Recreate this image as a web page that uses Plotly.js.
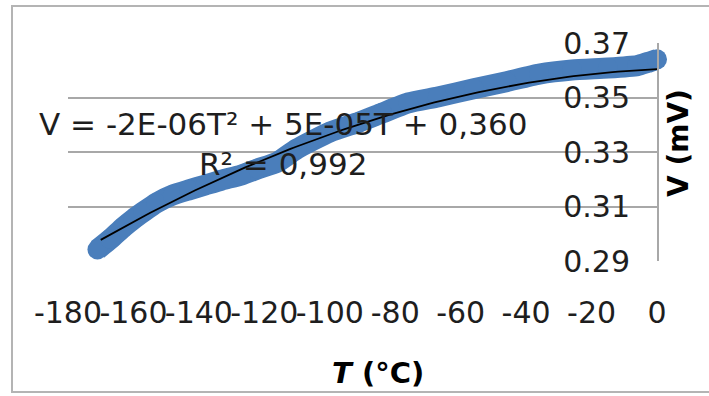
<!DOCTYPE html>
<html>
<head>
<meta charset="utf-8">
<script src="https://cdn.plot.ly/plotly-3.0.1.min.js"></script>
<style>
  html, body { margin: 0; padding: 0; background: #ffffff; }
  #chart { width: 709px; height: 396px; }
</style>
</head>
<body>
<div id="chart"></div>
<script>
// Measured temperature (°C) and sensor voltage (mV)
const tempC = [-171, -167, -163, -160, -157, -153, -148, -143, -138, -133, -127, -122,
               -116, -110, -100, -91, -84, -76, -67, -56, -46, -36, -26, -15, -6, -3, 0];
const voltage = [0.2942, 0.2981, 0.3025, 0.3054, 0.3080, 0.3113, 0.3142, 0.3161, 0.3179,
                 0.3197, 0.3216, 0.3238, 0.3263, 0.3312, 0.3373, 0.3410, 0.3443, 0.3480,
                 0.3502, 0.3532, 0.3558, 0.3586, 0.3601, 0.3608, 0.3617, 0.3628, 0.3640];

// Axis ticks
const xTicks = [-180, -160, -140, -120, -100, -80, -60, -40, -20, 0];
const yTicks = [0.29, 0.31, 0.33, 0.35, 0.37];

// Polynomial trendline coefficients (V = a·T² + b·T + c) and its printed label
const trendA = -1.85e-6;
const trendB = 5.4e-5;
const trendC = 0.3604;
const trendLabel = ['V = -2E-06T\u00b2 + 5E-05T + 0,360', 'R\u00b2 = 0,992'];

const tMin = -170, tMax = Math.max(...tempC);
const fitT = [], fitV = [];
for (let i = 0; i <= 100; i++) {
  const t = tMin + (tMax - tMin) * i / 100;
  fitT.push(t);
  fitV.push(trendC + trendB * t + trendA * t * t);
}

const FONT = 'DejaVu Sans, Verdana, sans-serif';
const INK = '#1e1e1e';
const GRID = '#a8a8a8';
const BLUE = '#4a7ebb';
const Y_RANGE = [0.29, 0.37];

// plot-area geometry in px
const W = 709, H = 396, L = 68, R = 52, T = 43, B = 135;
const pw = W - L - R, ph = H - T - B;
const px = v => (v - L) / pw;          // page x -> paper x
const py = v => (H - B - v) / ph;      // page y -> paper y

const traces = [
  {
    x: tempC, y: voltage, type: 'scatter', mode: 'lines+markers',
    line: { color: BLUE, width: 21, shape: 'spline', smoothing: 0.5 },
    marker: { color: BLUE, size: 20 },
    cliponaxis: false, hoverinfo: 'skip', showlegend: false
  },
  {
    x: fitT, y: fitV, type: 'scatter', mode: 'lines', yaxis: 'y2',
    line: { color: '#000000', width: 1.8 },
    hoverinfo: 'skip', showlegend: false
  }
];

const layout = {
  width: W, height: H,
  margin: { l: L, r: R, t: T, b: B, pad: 0 },
  paper_bgcolor: '#ffffff', plot_bgcolor: '#ffffff',
  font: { family: FONT, size: 30, color: INK },
  showlegend: false,
  xaxis: {
    range: [-180, 0], tickvals: xTicks, ticktext: xTicks.map(String),
    showgrid: false, zeroline: false, showline: false, ticks: '',
    tickangle: 0, ticklabelstandoff: 31, automargin: false,
    tickfont: { family: FONT, size: 30, color: INK }
  },
  // value axis: right-hand line and gridlines
  yaxis: {
    side: 'right', range: Y_RANGE, tickvals: yTicks,
    showgrid: true, gridcolor: GRID, gridwidth: 2,
    showline: true, linecolor: GRID, linewidth: 2,
    zeroline: false, ticks: '', showticklabels: false, automargin: false
  },
  // value axis labels, set just inside the right edge of the plot
  yaxis2: {
    overlaying: 'y', anchor: 'free', side: 'left', position: px(630),
    range: Y_RANGE, tickvals: yTicks,
    ticktext: yTicks.map(v => v.toFixed(2)),
    showgrid: false, showline: false, zeroline: false, ticks: '',
    ticklabelstandoff: 0, automargin: false,
    tickfont: { family: FONT, size: 30, color: INK }
  },
  shapes: [
    { type: 'rect', xref: 'paper', yref: 'paper', layer: 'below',
      x0: px(12), x1: px(720), y0: py(392), y1: py(6),
      line: { color: '#b4b4b4', width: 2 }, fillcolor: 'rgba(0,0,0,0)' }
  ],
  annotations: [
    { xref: 'paper', yref: 'paper', x: px(283), y: py(144),
      xanchor: 'center', yanchor: 'middle', align: 'center', showarrow: false,
      text: trendLabel.join('<br>'),
      font: { family: FONT, size: 31, color: INK } },
    { xref: 'paper', yref: 'paper', x: px(378), y: py(373),
      xanchor: 'center', yanchor: 'middle', showarrow: false,
      text: '<b><i>T</i> (°C)</b>',
      font: { family: FONT, size: 29, color: '#000000' } },
    { xref: 'paper', yref: 'paper', x: px(678), y: py(143),
      xanchor: 'center', yanchor: 'middle', showarrow: false, textangle: -90,
      text: '<b>V (mV)</b>',
      font: { family: FONT, size: 28, color: '#000000' } }
  ]
};

Plotly.newPlot('chart', traces, layout, { staticPlot: true, displayModeBar: false });
</script>
</body>
</html>
